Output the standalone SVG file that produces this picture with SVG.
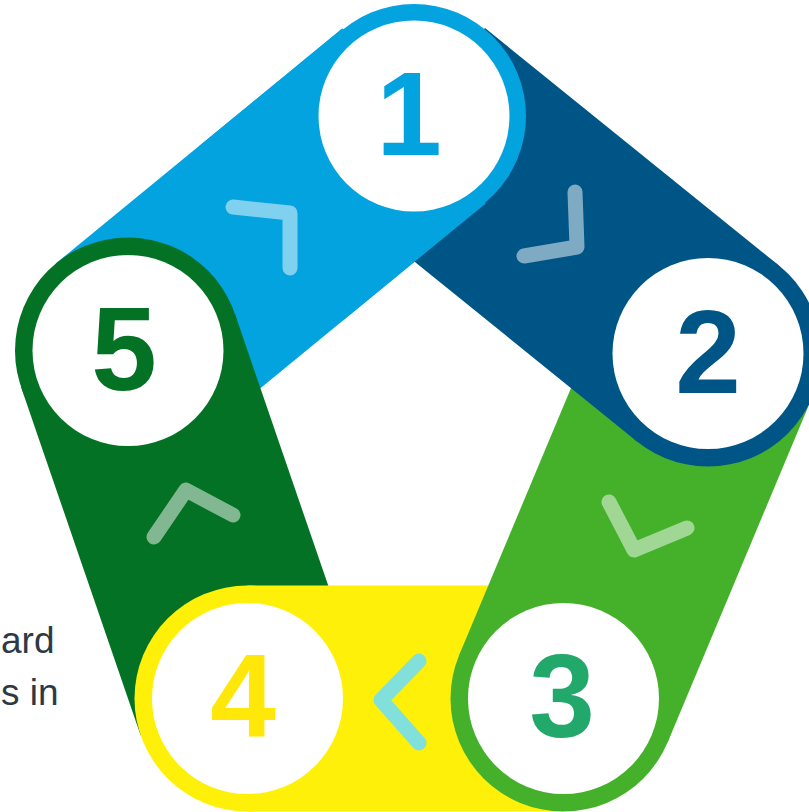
<svg xmlns="http://www.w3.org/2000/svg" width="809" height="812" viewBox="0 0 809 812">
  <style>
    .num { font-family: "Liberation Sans", Arial, sans-serif; font-weight: bold; font-size: 118px; text-anchor: middle; }
    .chev { fill: none; stroke-width: 15; stroke-linecap: round; stroke-linejoin: round; }
    .note { font-family: "Liberation Sans", Arial, sans-serif; font-size: 37px; fill: #2D3A46; }
    .hole { fill: #FFFFFF; }
  </style>
  <rect width="809" height="812" fill="#FFFFFF"/>

  <!-- side caption at the left edge -->
  <g id="caption">
    <text class="note" x="1" y="653">ard</text>
    <text class="note" x="1" y="705">s in</text>
  </g>

  <!-- bands between the numbered stations (drawn in reverse so each band's end sits on the next band's start) -->
  <g id="connectors">
    <polygon id="band-5-1" points="199.7,437.9 485.7,203.4 342.3,28.6 56.3,263.1" fill="#03A3DF"/>
    <polygon id="band-4-5" points="354.4,661.8 234.9,313.8 21.1,387.2 140.6,735.2" fill="#047224"/>
    <polygon id="band-3-4" points="563.5,585.5 247.5,585.5 247.5,811.5 563.5,811.5" fill="#FFF00A"/>
    <polygon id="band-2-3" points="603.8,309.8 459.3,654.8 667.7,742.2 812.2,397.2" fill="#45B02A"/>
    <polygon id="band-1-2" points="343,203.9 637,441.4 779,265.6 485,28.1" fill="#005587"/>
    <!-- upper half of the 5-1 band laid over the start of the 1-2 band -->
    <polygon points="342.7,320.7 485.7,203.4 342.3,28.6 199.3,145.9" fill="#03A3DF"/>

    <!-- direction chevrons -->
    <polyline class="chev" points="233,207 290,213 290,268" stroke="#80D1F0"/>
    <polyline class="chev" points="575,192 577,247 524,256" stroke="#7FAAC4"/>
    <polyline class="chev" points="609,502 634,550 687,528" stroke="#A1D794"/>
    <polyline class="chev" points="419,661 381,700 419,743" stroke="#82E0DA"/>
    <polyline class="chev" points="154,537 186,490 233,515" stroke="#81B891"/>
  </g>

  <g id="node-1">
    <circle cx="414" cy="116" r="112" fill="#03A3DF"/>
    <circle class="hole" cx="414" cy="116" r="95.5"/>
    <text class="num" x="409" y="155" fill="#03A3DF">1</text>
  </g>
  <g id="node-2">
    <circle cx="708" cy="353.5" r="113" fill="#005587"/>
    <circle class="hole" cx="708" cy="353.5" r="95.5"/>
    <text class="num" x="708" y="393" fill="#005587">2</text>
  </g>
  <g id="node-3">
    <circle cx="563.5" cy="698.5" r="113" fill="#45B02A"/>
    <circle class="hole" cx="563.5" cy="698.5" r="95.5"/>
    <text class="num" x="562" y="737" fill="#22A86A">3</text>
  </g>
  <g id="node-4">
    <circle cx="247.5" cy="698.5" r="113" fill="#FFF00A"/>
    <circle class="hole" cx="247.5" cy="698.5" r="95.5"/>
    <text class="num" x="243" y="737" fill="#FFE70A">4</text>
  </g>
  <g id="node-5">
    <circle cx="128" cy="350.5" r="113" fill="#047224"/>
    <circle class="hole" cx="128" cy="350.5" r="95.5"/>
    <text class="num" x="124" y="390" fill="#047224">5</text>
  </g>
</svg>
